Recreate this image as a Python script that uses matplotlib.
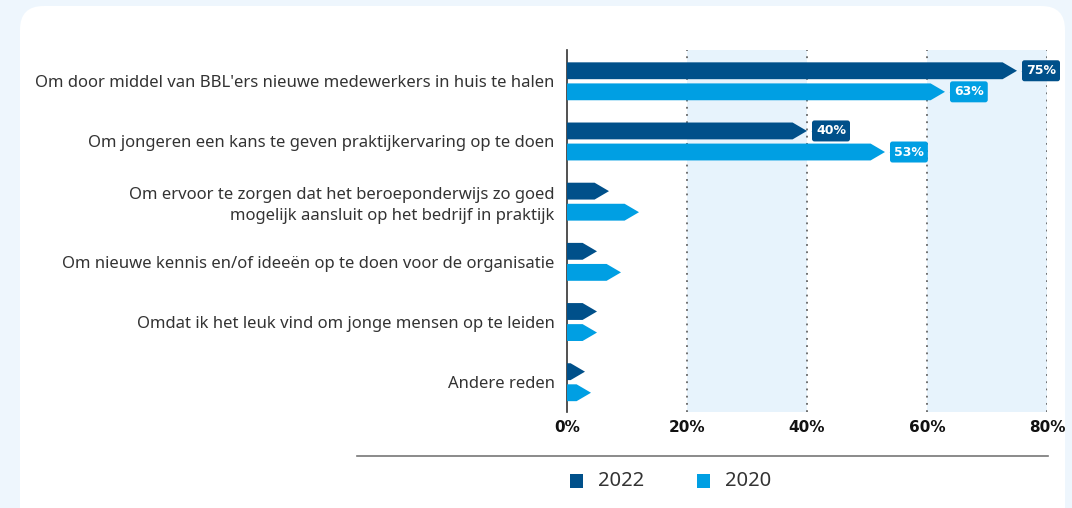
import matplotlib

matplotlib.use("Agg")
import matplotlib.pyplot as plt
from matplotlib.patches import FancyBboxPatch, Polygon
from matplotlib.lines import Line2D

plt.rcParams["font.family"] = ["Noto Sans", "DejaVu Sans"]

categories = [
    "Om door middel van BBL'ers nieuwe medewerkers in huis te halen",
    "Om jongeren een kans te geven praktijkervaring op te doen",
    "Om ervoor te zorgen dat het beroeponderwijs zo goed\nmogelijk aansluit op het bedrijf in praktijk",
    "Om nieuwe kennis en/of ideeën op te doen voor de organisatie",
    "Omdat ik het leuk vind om jonge mensen op te leiden",
    "Andere reden",
]
values_2022 = [75, 40, 7, 5, 5, 3]
values_2020 = [63, 53, 12, 9, 5, 4]
labelled = [True, True, False, False, False, False]
xticks = [0, 20, 40, 60, 80]

DARK = "#00508a"
LIGHT = "#009fe3"
BAND = "#e7f3fc"
TEXT = "#333333"
BOLD = ["DejaVu Sans"]

W, H = 1072, 508
fig = plt.figure(figsize=(W / 100, H / 100), dpi=100)
fig.patch.set_facecolor("#eef6fd")

# white card
card = FancyBboxPatch((20 / W, -30 / H), 1045 / W, 532 / H,
                      boxstyle="round,pad=0,rounding_size=0.022",
                      transform=fig.transFigure, facecolor="white",
                      edgecolor="none", mutation_aspect=W / H, zorder=-5)
fig.patches.append(card)

ax = fig.add_axes([567 / W, 1 - 412 / H, 480 / W, 362 / H])
ax.set_zorder(2)
ax.set_facecolor("none")
ax.set_xlim(0, 80)
ax.set_ylim(5.5, -0.515)

# shaded bands and dotted grid
for lo in (20, 60):
    ax.axvspan(lo, lo + 20, color=BAND, zorder=0, lw=0)
for x in xticks[1:]:
    ax.axvline(x, color="#666666", lw=1.3, ls=(0, (1, 3)), zorder=1)

HD = 2.4   # arrow head length (%)
BH = 0.28  # bar height


def arrow_bar(y, v, color):
    hd = min(HD, v * 0.8)
    pts = [(0, y - BH / 2), (v - hd, y - BH / 2), (v, y),
           (v - hd, y + BH / 2), (0, y + BH / 2)]
    ax.add_patch(Polygon(pts, closed=True, facecolor=color, edgecolor="none", zorder=3))


def value_tag(y, v, color):
    ax.plot(v + 1.2, y, marker="<", ms=4, color=color, mec="none", zorder=4)
    ax.text(v + 1.5, y, f"{v}%", ha="left", va="center", color="white",
            fontsize=9, fontweight="bold", family=BOLD, zorder=5,
            bbox=dict(boxstyle="round,pad=0.32,rounding_size=0.2",
                      fc=color, ec="none"))


for i, (a, b) in enumerate(zip(values_2022, values_2020)):
    arrow_bar(i - 0.17, a, DARK)
    arrow_bar(i + 0.18, b, LIGHT)
    if labelled[i]:
        value_tag(i - 0.17, a, DARK)
        value_tag(i + 0.18, b, LIGHT)

ax.set_yticks(range(len(categories)))
ax.set_yticklabels(categories, fontsize=12, color=TEXT, ha="right",
                   linespacing=1.4)
ax.tick_params(axis="y", length=0, pad=9)
ax.set_xticks(xticks)
ax.set_xticklabels([f"{x}%" for x in xticks], fontsize=11,
                   fontweight="bold", family=BOLD, color="#111111")
ax.tick_params(axis="x", length=0, pad=6)
for s in ("top", "right", "bottom"):
    ax.spines[s].set_visible(False)
ax.spines["left"].set_color("#333333")
ax.spines["left"].set_linewidth(1.2)

# separator line and legend
fig.add_artist(Line2D([357 / W, 1048 / W], [1 - 456 / H] * 2,
                      color="#777777", lw=1.2, transform=fig.transFigure))
for x0, col, lab in ((570, DARK, "2022"), (697, LIGHT, "2020")):
    fig.patches.append(FancyBboxPatch((x0 / W, 1 - 488 / H), 13 / W, 14 / H,
                                      boxstyle="square,pad=0",
                                      transform=fig.transFigure,
                                      fc=col, ec="none"))
    fig.text((x0 + 28) / W, 1 - 481 / H, lab, fontsize=14.5, color=TEXT,
             ha="left", va="center")

fig.savefig("out.png", dpi=100, facecolor=fig.get_facecolor())
